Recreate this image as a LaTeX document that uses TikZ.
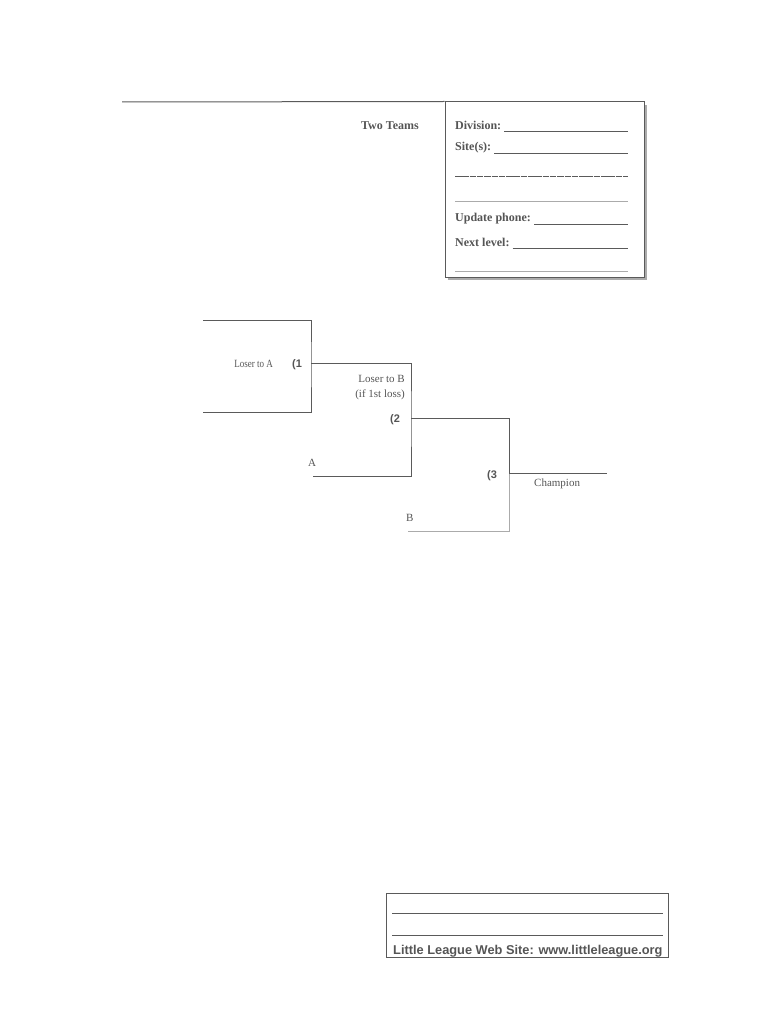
\documentclass[tikz,border=0pt]{standalone}
\usepackage{fontspec}
\setmainfont{Liberation Serif}
\setsansfont{Liberation Sans}
\usetikzlibrary{positioning,shadows}
\definecolor{ink}{HTML}{555555}
\definecolor{rule}{HTML}{5A5A5A}
\definecolor{pale}{HTML}{ABABAB}
\tikzset{
  field/.style={anchor=base west, font=\fontsize{12}{14}\selectfont\bfseries, text=ink, inner sep=0pt},
  uline/.style={draw=rule, line width=1pt},
  bline/.style={draw=rule, line width=1pt},
  lbl/.style={font=\fontsize{11}{13}\selectfont, text=ink, inner sep=0pt},
  game/.style={font=\fontsize{11}{13}\selectfont\sffamily\bfseries, text=ink, inner sep=0pt},
}
\begin{document}
\begin{tikzpicture}[x=1pt,y=-1pt]
    \useasboundingbox (0,0) rectangle (770,1024);
    % header and info box
    \node(infobox) [draw=rule, fill=white, line width=1pt, minimum width=199pt, minimum height=175pt, inner sep=0pt,
        drop shadow={shadow xshift=3pt, shadow yshift=-3pt, fill=pale, opacity=1}] at (544.5,189.5) {};
    \coordinate(topstart) at (122,102);
    \draw[bline] (topstart) -- (infobox.north west);
    \node(twoteams) [field, anchor=base east] at (419,129.5) {Two Teams};
    \coordinate(lineend) at (628,0);
    \node(division) [field] at (455,130) {Division:};
    \draw[uline] ([xshift=3pt,yshift=-2pt]division.base east) -- ([yshift=-2pt]division.base -| lineend);
    \node(sites) [field] at (455,151) {Site(s):};
    \draw[uline] ([xshift=3pt,yshift=-2.5pt]sites.base east) -- ([yshift=-2.5pt]sites.base -| lineend);
    \coordinate(blankone) at (455,177);
    \draw[uline, dash pattern=on 6.5pt off 0.8pt] (blankone) -- (blankone -| lineend);
    \coordinate(blanktwo) at (455,201.5);
    \draw[draw=pale, line width=1.6pt] (blanktwo) -- (blanktwo -| lineend);
    \node(phone) [field] at (455,222) {Update phone:};
    \draw[uline] ([xshift=3pt,yshift=-2.5pt]phone.base east) -- ([yshift=-2.5pt]phone.base -| lineend);
    \node(nextlevel) [field] at (455,246) {Next level:};
    \draw[uline] ([xshift=3pt,yshift=-2pt]nextlevel.base east) -- ([yshift=-2pt]nextlevel.base -| lineend);
    \coordinate(blankthree) at (455,271.5);
    \draw[draw=pale, line width=1.6pt] (blankthree) -- (blankthree -| lineend);
    % bracket
    \coordinate(seedone) at (203,320);
    \coordinate(seedtwo) at (203,412);
    \coordinate(winone) at (311,363);
    \coordinate(wintwo) at (411,418);
    \coordinate(winthree) at (509,473);
    \coordinate(slota) at (313,476);
    \coordinate(slotb) at (408,531);
    \coordinate(champend) at (607,473);
    \draw[bline] (seedone) -| (winone) |- (seedtwo);
    \draw[bline] (winone) -| (wintwo) |- (slota);
    \draw[bline] (wintwo) -| (winthree);
    \draw[draw=pale, line width=1pt] (winthree) |- (slotb);
    \draw[bline] (winthree) -- (champend);
    \node(losera) [lbl, xscale=0.82, anchor=base east] at (273,367) {Loser to A};
    \node(gameone) [game, anchor=base west] at (292,367) {(1};
    \node(loserb) [lbl, anchor=base east] at (405,382) {Loser to B};
    \node(firstloss) [lbl, anchor=base east] at (405,397) {(if 1st loss)};
    \node(gametwo) [game, anchor=base west] at (390,422) {(2};
    \node(labela) [lbl, anchor=base west] at (308,466) {A};
    \node(gamethree) [game, anchor=base west] at (487,478) {(3};
    \node(champion) [lbl, anchor=base west] at (534,486) {Champion};
    \node(labelb) [lbl, anchor=base west] at (406,521) {B};
    % web site box
    \node(webbox) [draw=rule, line width=1pt, minimum width=282pt, minimum height=64pt, inner sep=0pt] at (527,925) {};
    \coordinate(webone) at (392,913);
    \coordinate(webtwo) at (392,935);
    \coordinate(webend) at (663,0);
    \draw[uline] (webone) -- (webone -| webend);
    \draw[uline] (webtwo) -- (webtwo -| webend);
    \node(website) [font=\fontsize{12.8}{14}\selectfont\sffamily\bfseries, text=ink, inner sep=0pt, anchor=base west] at (393,954) {Little League Web Site: www.littleleague.org};
\end{tikzpicture}
\end{document}
